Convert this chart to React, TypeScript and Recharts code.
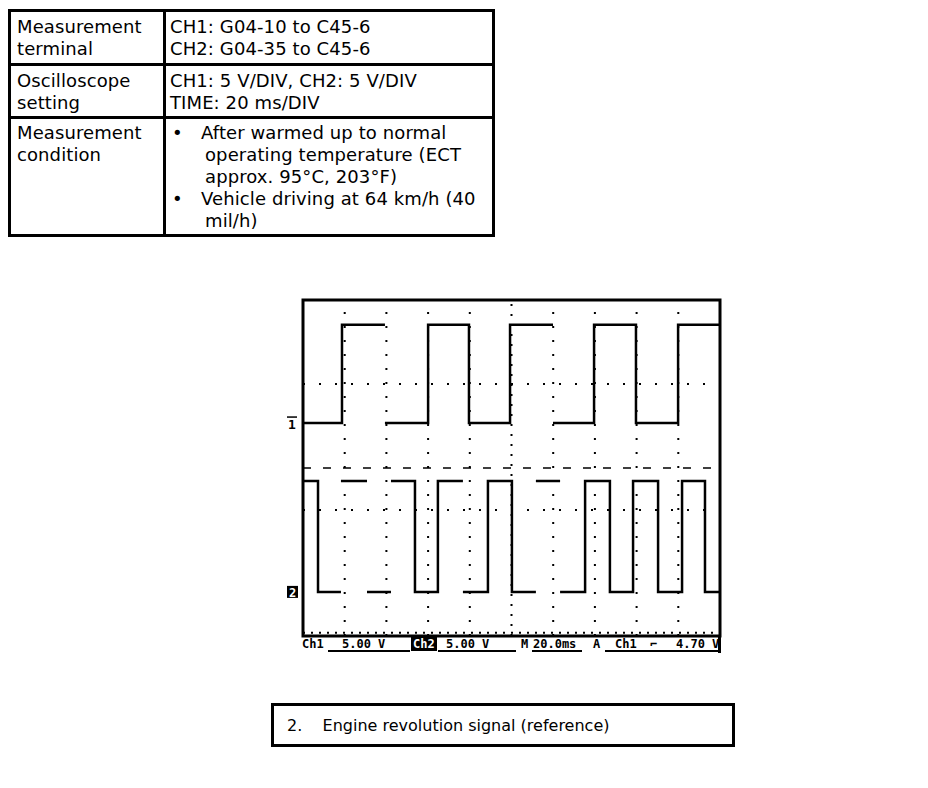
import React from 'react';
import { LineChart, Line, XAxis, YAxis, ReferenceLine, ReferenceArea } from 'recharts';

// scope settings
const voltsPerDiv = 5;
const msPerDiv = 20;
const timeDivs = 10;
const voltDivs = 8;
const ch1GroundDiv = 5.07; // divisions above the bottom of the screen
const ch2GroundDiv = 1.05;

// grid (time in ms, levels in divisions from the bottom)
const timeGridTicks = [20, 40, 60, 80, 120, 140, 160, 180];
const timeCenter = 100;
const dottedDivLines = [3, 6];
const dashedDivLine = 4;
const bottomTickDiv = 0.08;

// CH1 trace (volts, edge times in ms)
const ch1Low = 0;
const ch1High = 11.7;
const ch1StartsHigh = false;
const ch1Edges = [18.7, 39.3, 60.0, 79.6, 99.3, 119.9, 139.6, 159.7, 179.9];
const ch1EdgeDrawn = [true, false, true, true, true, false, true, true, true];

// CH2 trace
const ch2Low = 0;
const ch2High = 13.2;
const ch2StartsHigh = true;
const ch2Edges = [7.2, 18.2, 30.7, 42.2, 53.7, 64.7, 76.7, 88.7, 100.2, 111.7, 123.3, 135.3, 147.2, 158.3, 170.3, 181.8, 192.8];
const ch2EdgeDrawn = [true, false, false, false, true, true, false, true, true, false, false, true, true, true, true, true, true];

type Pt = { t: number; v: number | null };

function buildTrace(edges: number[], drawn: boolean[], low: number, high: number, startsHigh: boolean): Pt[] {
  const end = msPerDiv * timeDivs;
  let level = startsHigh ? high : low;
  const pts: Pt[] = [{ t: 0, v: level }];
  edges.forEach((t, i) => {
    const next = level === high ? low : high;
    pts.push({ t, v: level });
    if (!drawn[i]) pts.push({ t, v: null });
    pts.push({ t, v: next });
    level = next;
  });
  pts.push({ t: end, v: level });
  return pts;
}

const ch1Data = buildTrace(ch1Edges, ch1EdgeDrawn, ch1Low, ch1High, ch1StartsHigh);
const ch2Data = buildTrace(ch2Edges, ch2EdgeDrawn, ch2Low, ch2High, ch2StartsHigh);

// grid lines are placed on the CH1 axis, converted from divisions
const divToCh1 = (d: number) => (d - ch1GroundDiv) * voltsPerDiv;

const monoFont = '"DejaVu Sans Mono", monospace';

const Ch1Marker = (props: any) => {
  const { x, y } = props.viewBox;
  return (
    <g>
      <line x1={x - 16} x2={x - 6} y1={y - 6} y2={y - 6} stroke="#000" strokeWidth={1.5} />
      <text x={x - 11} y={y + 6} textAnchor="middle" fontSize={13} fontFamily={monoFont} fontWeight="bold">1</text>
    </g>
  );
};

const Ch2Marker = (props: any) => {
  const { x, y } = props.viewBox;
  return (
    <g>
      <rect x={x - 16} y={y - 6} width={11} height={12} fill="#000" />
      <text x={x - 10.5} y={y + 5} textAnchor="middle" fontSize={12} fontFamily={monoFont} fontWeight="bold" fill="#fff">2</text>
    </g>
  );
};

function ScopeChart() {
  const tEnd = msPerDiv * timeDivs;
  return (
    <LineChart width={460} height={380} margin={{ top: 10, right: 20, bottom: 34, left: 23 }}>
      <XAxis type="number" dataKey="t" domain={[0, tEnd]} hide allowDataOverflow />
      <YAxis yAxisId="ch1" type="number" domain={[divToCh1(0), divToCh1(voltDivs)]} hide allowDataOverflow />
      <YAxis yAxisId="ch2" type="number" domain={[-ch2GroundDiv * voltsPerDiv, (voltDivs - ch2GroundDiv) * voltsPerDiv]} hide allowDataOverflow />

      {timeGridTicks.map((t) => (
        <ReferenceLine key={t} x={t} yAxisId="ch1" stroke="#000" strokeWidth={2} strokeDasharray="2 12" />
      ))}
      <ReferenceLine x={timeCenter} yAxisId="ch1" stroke="#000" strokeWidth={2} strokeDasharray="2 8" />
      {dottedDivLines.map((d) => (
        <ReferenceLine key={d} y={divToCh1(d)} yAxisId="ch1" stroke="#000" strokeWidth={2} strokeDasharray="2 14" />
      ))}
      <ReferenceLine y={divToCh1(dashedDivLine)} yAxisId="ch1" stroke="#000" strokeWidth={1.5} strokeDasharray="8 12" />
      <ReferenceLine y={divToCh1(bottomTickDiv)} yAxisId="ch1" stroke="#000" strokeWidth={2} strokeDasharray="2 6" />

      <ReferenceLine y={0} yAxisId="ch1" stroke="none" label={Ch1Marker} />
      <ReferenceLine y={0} yAxisId="ch2" stroke="none" label={Ch2Marker} />

      <Line data={ch1Data} yAxisId="ch1" dataKey="v" type="linear" stroke="#000" strokeWidth={2.5} dot={false} isAnimationActive={false} />
      <Line data={ch2Data} yAxisId="ch2" dataKey="v" type="linear" stroke="#000" strokeWidth={2.5} dot={false} isAnimationActive={false} />

      <ReferenceArea x1={0} x2={tEnd} y1={divToCh1(0)} y2={divToCh1(voltDivs)} yAxisId="ch1" fill="none" fillOpacity={0} stroke="#000" strokeWidth={3} />
    </LineChart>
  );
}

const sans = '"DejaVu Sans", Verdana, sans-serif';

const cellLeft: React.CSSProperties = { width: 155, padding: '4px 5px 0 6px', borderRight: '3px solid #000', boxSizing: 'border-box' };
const cellRight: React.CSSProperties = { flex: 1, padding: '4px 4px 0 4px' };

function SpecTable() {
  return (
    <div style={{ position: 'absolute', left: 8, top: 9, width: 487, height: 228, border: '3px solid #000', boxSizing: 'border-box', fontFamily: sans, fontSize: 18, letterSpacing: 0.1, lineHeight: '22px', whiteSpace: 'nowrap', display: 'flex', flexDirection: 'column' }}>
      <div style={{ display: 'flex', height: 54, borderBottom: '3px solid #000', boxSizing: 'border-box' }}>
        <div style={cellLeft}>Measurement<br />terminal</div>
        <div style={cellRight}>CH1: G04-10 to C45-6<br />CH2: G04-35 to C45-6</div>
      </div>
      <div style={{ display: 'flex', height: 53, borderBottom: '3px solid #000', boxSizing: 'border-box' }}>
        <div style={{ ...cellLeft, paddingTop: 4 }}>Oscilloscope<br />setting</div>
        <div style={{ ...cellRight, paddingTop: 4 }}>CH1: 5 V/DIV, CH2: 5 V/DIV<br />TIME: 20 ms/DIV</div>
      </div>
      <div style={{ display: 'flex', flex: 1 }}>
        <div style={{ ...cellLeft, paddingTop: 3 }}>Measurement<br />condition</div>
        <div style={{ ...cellRight, paddingTop: 3, paddingLeft: 6 }}>
          <div style={{ display: 'flex' }}>
            <span style={{ width: 29 }}>•</span>
            <span style={{ paddingLeft: 4, textIndent: -4 }}>After warmed up to normal<br />operating temperature (ECT<br />approx. 95°C, 203°F)</span>
          </div>
          <div style={{ display: 'flex' }}>
            <span style={{ width: 29 }}>•</span>
            <span style={{ paddingLeft: 4, textIndent: -4 }}>Vehicle driving at 64 km/h (40<br />mil/h)</span>
          </div>
        </div>
      </div>
    </div>
  );
}

const statusText: React.CSSProperties = { position: 'absolute', top: 637, fontFamily: monoFont, fontWeight: 'bold', fontSize: 12, lineHeight: '14px' };
const rule = (left: number, width: number): React.CSSProperties => ({ position: 'absolute', left, top: 650, width, height: 2, background: '#000' });

function StatusBar() {
  return (
    <>
      <span style={{ ...statusText, left: 302 }}>Ch1</span>
      <div style={rule(328, 82)} />
      <span style={{ ...statusText, left: 342 }}>5.00 V</span>
      <span style={{ ...statusText, left: 411, background: '#000', color: '#fff', padding: '0 2px' }}>Ch2</span>
      <div style={rule(438, 78)} />
      <span style={{ ...statusText, left: 446 }}>5.00 V</span>
      <span style={{ ...statusText, left: 521 }}>M</span>
      <div style={rule(532, 50)} />
      <span style={{ ...statusText, left: 533 }}>20.0ms</span>
      <span style={{ ...statusText, left: 593 }}>A</span>
      <div style={rule(605, 115)} />
      <span style={{ ...statusText, left: 615 }}>Ch1</span>
      <span style={{ ...statusText, left: 650 }}>⌐</span>
      <span style={{ ...statusText, left: 676 }}>4.70 V</span>
      <div style={{ position: 'absolute', left: 718, top: 636, width: 3, height: 17, background: '#000' }} />
    </>
  );
}

export default function App() {
  return (
    <div style={{ position: 'absolute', left: 0, top: 0, width: 928, height: 788, background: '#fff', color: '#000' }}>
      <SpecTable />
      <div style={{ position: 'absolute', left: 280, top: 290 }}>
        <ScopeChart />
      </div>
      <StatusBar />
      <div style={{ position: 'absolute', left: 271, top: 703, width: 464, height: 44, border: '3px solid #000', boxSizing: 'border-box', fontFamily: sans, fontSize: 16, lineHeight: '40px', paddingLeft: 13, whiteSpace: 'pre' }}>
        {'2.    Engine revolution signal (reference)'}
      </div>
    </div>
  );
}
